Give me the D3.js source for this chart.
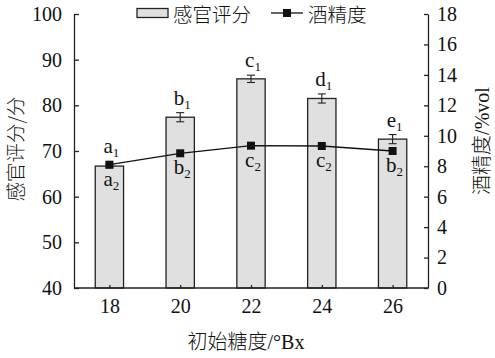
<!DOCTYPE html>
<html><head><meta charset="utf-8">
<script src="https://cdn.jsdelivr.net/npm/d3@7"></script>
<style>
body{margin:0;background:#fff;}
text{font-family:"Liberation Serif","Times New Roman",serif;fill:#111;}
.cjk{font-family:"Noto Sans CJK SC",sans-serif;font-weight:300;}
</style></head>
<body><svg id="c" width="495" height="358"></svg>
<script>
const categories = ["18","20","22","24","26"];
const scores = [66.7, 77.4, 85.8, 81.5, 72.6];
const scoreErr = [0.4, 1.0, 0.8, 1.0, 1.0];
const alcohol = [8.1, 8.85, 9.35, 9.33, 9.0];
const scoreLetters = ["a","b","c","d","e"];
const alcLetters = ["a","b","c","c","b"];
const leftTicks = [40,50,60,70,80,90,100];
const rightTicks = [0,2,4,6,8,10,12,14,16,18];

const svg = d3.select("#c");
const L=74, R=428, T=14, B=288;
const x = d3.scalePoint().domain(categories).range([L,R]).padding(0.5);
const bw = x.step()*0.4;
const y = d3.scaleLinear().domain([40,100]).range([B,T]);
const y2 = d3.scaleLinear().domain([0,18]).range([B,T]);

// bars
svg.selectAll("rect.bar").data(categories).join("rect")
  .attr("x",d=>x(d)-bw/2).attr("y",(d,i)=>y(scores[i]))
  .attr("width",bw).attr("height",(d,i)=>B-y(scores[i]))
  .attr("fill","#e0e0e0").attr("stroke","#222").attr("stroke-width",1.3);

// error bars
const eb = svg.append("g").attr("stroke","#222").attr("stroke-width",1.1);
categories.forEach((d,i)=>{
  const cx=x(d), t=y(scores[i]+scoreErr[i]), b=y(scores[i]-scoreErr[i]);
  eb.append("line").attr("x1",cx).attr("x2",cx).attr("y1",t).attr("y2",b);
  eb.append("line").attr("x1",cx-4).attr("x2",cx+4).attr("y1",t).attr("y2",t);
  eb.append("line").attr("x1",cx-4).attr("x2",cx+4).attr("y1",b).attr("y2",b);
});

// axes
const axL = svg.append("g").attr("transform",`translate(${L},0)`)
  .call(d3.axisLeft(y).tickValues(leftTicks).tickSizeInner(-5).tickSizeOuter(0).tickPadding(12));
const axR = svg.append("g").attr("transform",`translate(${R},0)`)
  .call(d3.axisRight(y2).tickValues(rightTicks).tickSizeInner(-4).tickSizeOuter(0).tickPadding(9));
const axB = svg.append("g").attr("transform",`translate(0,${B})`)
  .call(d3.axisBottom(x).tickSizeInner(-3).tickSizeOuter(0).tickPadding(10));
axB.select(".domain").attr("d",`M${L},0H${R}`);
[axL,axR,axB].forEach(a=>{
  a.attr("font-family","Liberation Serif");
  a.selectAll("path,line").attr("stroke","#222").attr("stroke-width",1.3);
  a.selectAll("text").attr("font-size",20).attr("fill","#111");
});
axB.selectAll("text").attr("dy","0.75em");

// line
const line = d3.line().x((d,i)=>x(categories[i])).y(d=>y2(d));
svg.append("path").datum(alcohol).attr("d",line).attr("fill","none").attr("stroke","#111").attr("stroke-width",1.3);
svg.selectAll("rect.mk").data(alcohol).join("rect")
  .attr("x",(d,i)=>x(categories[i])-4).attr("y",d=>y2(d)-4).attr("width",8).attr("height",8).attr("fill","#111");

// letters
function lab(cx,by,ch,sub){
  const t=svg.append("text").attr("x",cx).attr("y",by).attr("text-anchor","middle").attr("font-size",21);
  t.append("tspan").text(ch);
  t.append("tspan").attr("font-size",13).attr("dy",4).text(sub);
}
categories.forEach((d,i)=>{
  const top = Math.min(y(scores[i]+scoreErr[i]), y2(alcohol[i])-4);
  lab(x(d)+2, top-8, scoreLetters[i], "1");
  lab(x(d)+2, y2(alcohol[i])+21, alcLetters[i], "2");
});

// legend
svg.append("rect").attr("x",137).attr("y",8.5).attr("width",31).attr("height",9)
  .attr("fill","#e0e0e0").attr("stroke","#222").attr("stroke-width",1.3);
svg.append("text").attr("class","cjk").attr("x",173).attr("y",22).attr("font-size",19.5).text("感官评分");
svg.append("line").attr("x1",271).attr("x2",303).attr("y1",13).attr("y2",13).attr("stroke","#111").attr("stroke-width",1.3);
svg.append("rect").attr("x",283).attr("y",9).attr("width",8).attr("height",8).attr("fill","#111");
svg.append("text").attr("class","cjk").attr("x",308).attr("y",22).attr("font-size",19.5).text("酒精度");

// axis titles
svg.append("text").attr("class","cjk").attr("transform","translate(23,149) rotate(-90)")
  .attr("text-anchor","middle").attr("font-size",19.5).text("感官评分/分");
const rt = svg.append("text").attr("transform","translate(489,141) rotate(-90)")
  .attr("text-anchor","middle").attr("font-size",20);
rt.append("tspan").attr("class","cjk").text("酒精度");
rt.append("tspan").text("/%vol");
const xt = svg.append("text").attr("x",246).attr("y",349).attr("text-anchor","middle").attr("font-size",20);
xt.append("tspan").attr("class","cjk").text("初始糖度");
xt.append("tspan").text("/°Bx");
</script></body></html>
